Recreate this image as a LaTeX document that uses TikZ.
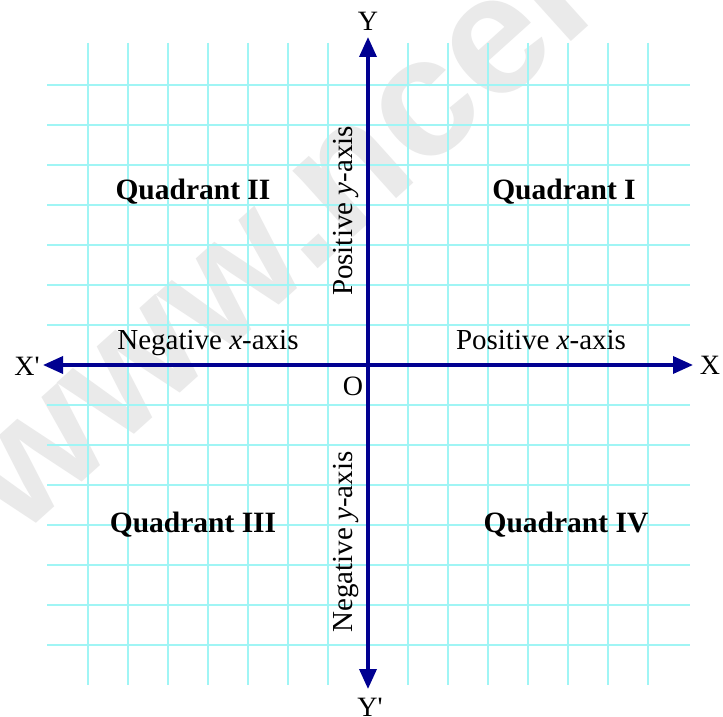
\documentclass[tikz,border=0pt]{standalone}
\usepackage{fontspec}
\setmainfont{Liberation Serif}
\newfontfamily\wmfont{Liberation Sans}
\usetikzlibrary{arrows.meta}
\definecolor{gridcyan}{RGB}{160,245,245}
\definecolor{axisblue}{RGB}{0,0,145}
\definecolor{wmgray}{RGB}{234,234,234}
\begin{document}
\begin{tikzpicture}[x=1pt,y=-1pt,
  gridline/.style={draw=gridcyan,line width=1.6pt},
  axisline/.style={draw=axisblue,line width=3.5pt,{Triangle[length=20pt,width=17pt]}-{Triangle[length=20pt,width=17pt]}},
  quadlabel/.style={font=\fontsize{29.5}{32}\selectfont\bfseries,anchor=base,inner sep=0pt},
  axislabel/.style={font=\fontsize{29}{32}\selectfont,anchor=base,inner sep=0pt},
  endlabel/.style={font=\fontsize{28}{30}\selectfont,inner sep=0pt},
  watermark/.style={font=\wmfont\bfseries\fontsize{170}{170}\selectfont,text=wmgray,rotate=42,inner sep=0pt}
]
\useasboundingbox (0,0) rectangle (723,717);
\fill[white] (0,0) rectangle (723,717);
\begin{scope}
  \clip (0,0) rectangle (723,717);
  \node[watermark] (wm) at (300,212) {www.ncert};
\end{scope}
% grid
\foreach \k in {-7,...,7} {
  \draw[gridline] (368+40*\k,43) -- (368+40*\k,685);
  \draw[gridline] (47,365+40*\k) -- (690,365+40*\k);
}
% axes
\coordinate (O) at (368,365);
\coordinate (xl) at (43,365);
\coordinate (xr) at (693,365);
\coordinate (yt) at (368,37);
\coordinate (yb) at (368,689);
\draw[axisline] (xl) -- (xr);
\draw[axisline] (yb) -- (yt);
% end labels
\node[endlabel] (Y) at (368,21) {Y};
\node[endlabel] (Yp) at (370,707) {Y\textquotesingle};
\node[endlabel] (X) at (710,365) {X};
\node[endlabel] (Xp) at (27,366) {X\textquotesingle};
\node[endlabel] (Olab) at (353,386) {O};
% quadrant labels
\node[quadlabel] (q2) at (193,199) {Quadrant II};
\node[quadlabel] (q1) at (564,199) {Quadrant I};
\node[quadlabel] (q3) at (193,532) {Quadrant III};
\node[quadlabel] (q4) at (566,532) {Quadrant IV};
% axis labels
\node[axislabel] (nx) at (208,349) {Negative \textit{x}-axis};
\node[axislabel] (px) at (541,349) {Positive \textit{x}-axis};
\node[axislabel,rotate=90] (py) at (352,211) {Positive \textit{y}-axis};
\node[axislabel,rotate=90] (ny) at (352,542) {Negative \textit{y}-axis};
\end{tikzpicture}
\end{document}
